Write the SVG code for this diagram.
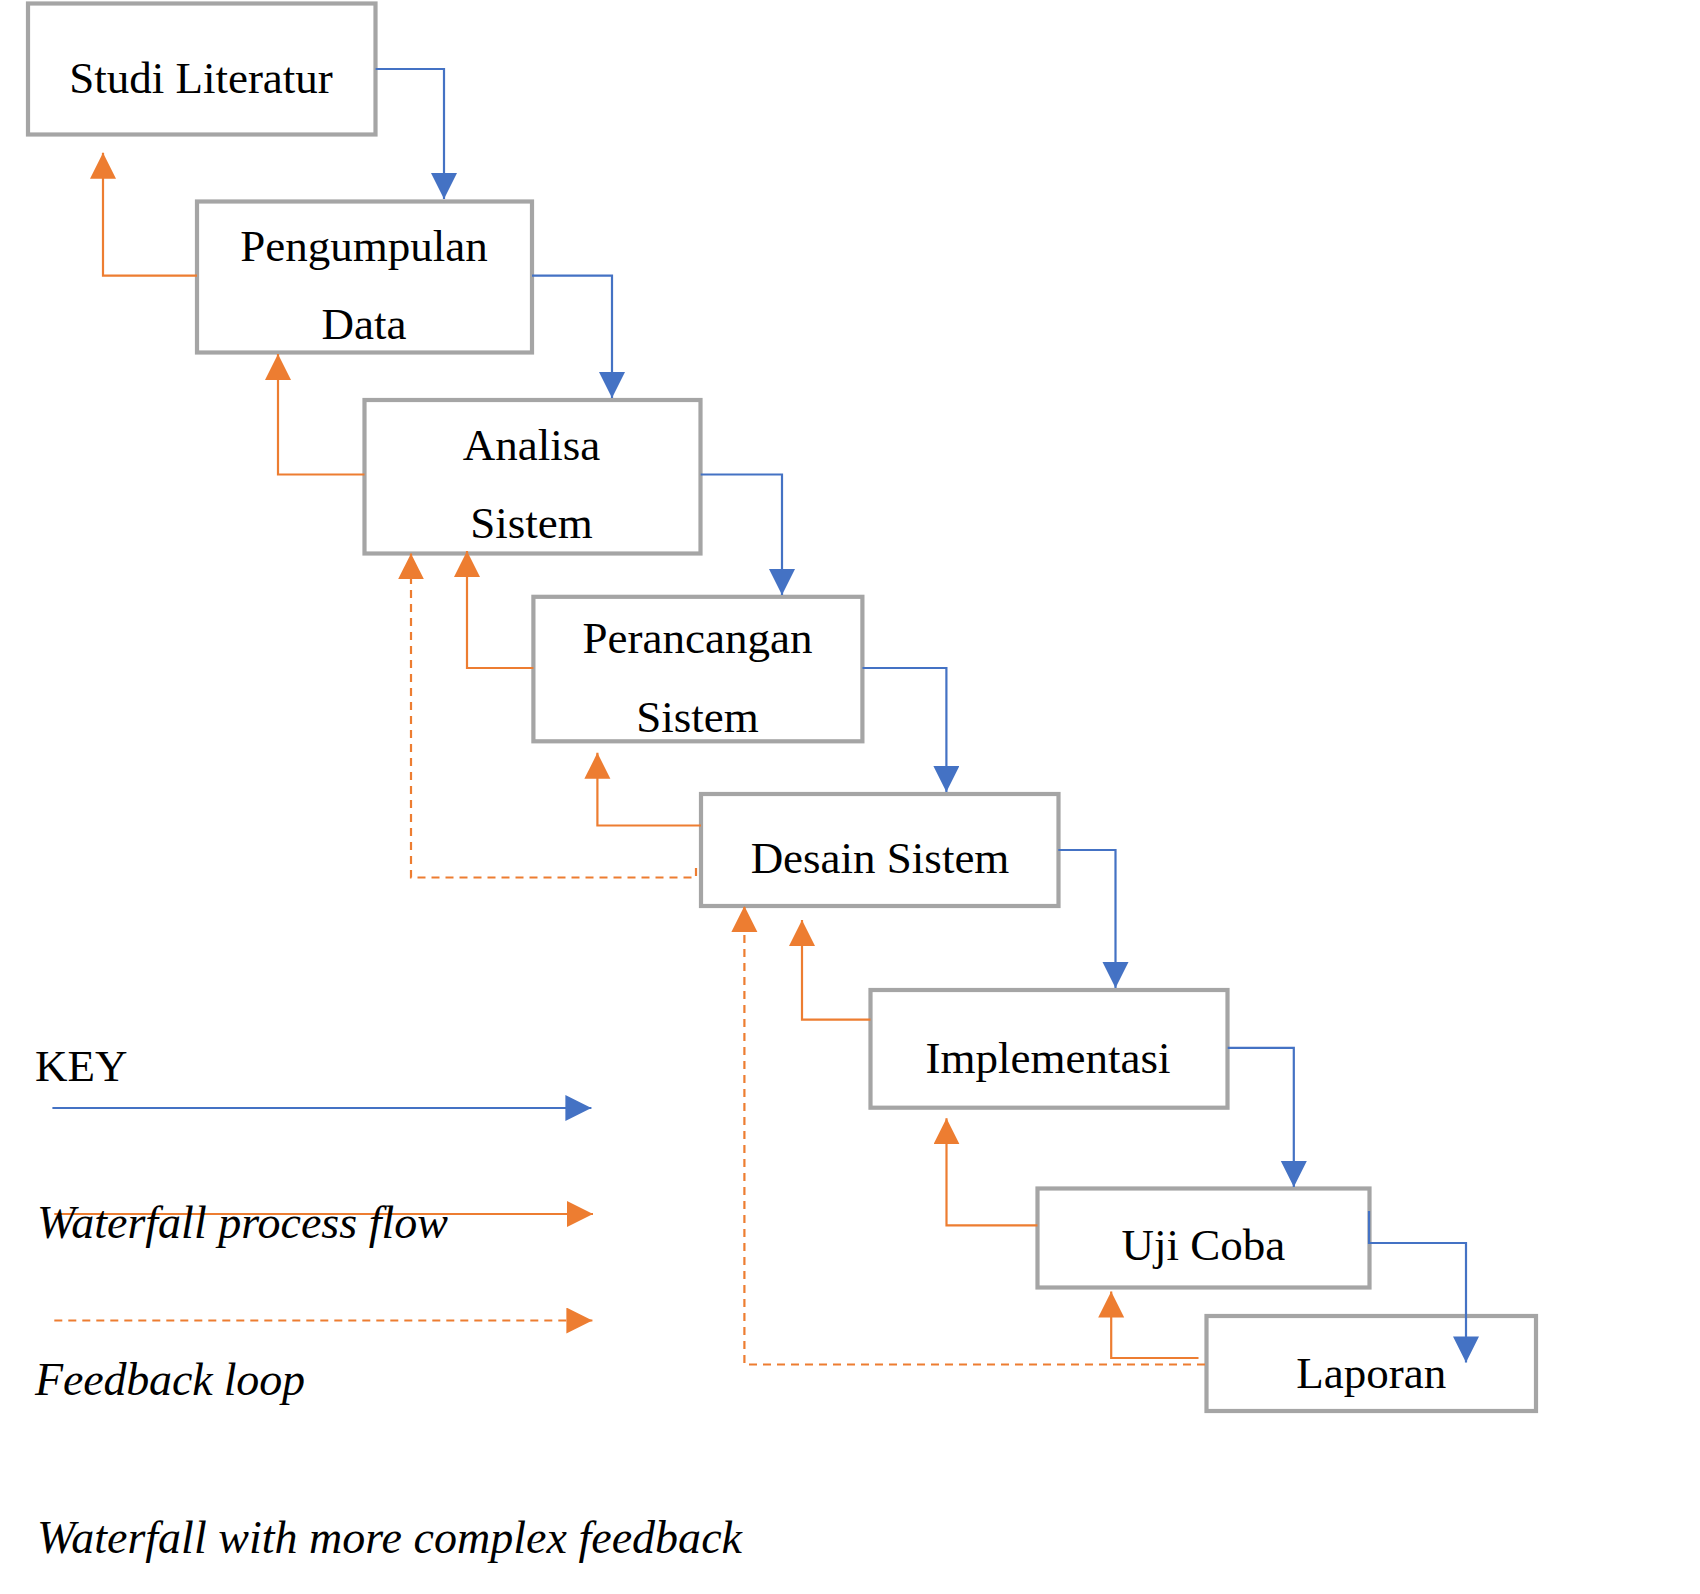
<svg xmlns="http://www.w3.org/2000/svg" width="1700" height="1594" viewBox="0 0 1700 1594">
<style>
.box{fill:#fff;stroke:#A5A5A5;stroke-width:4.2}
.t{font-family:"Liberation Serif","Times New Roman",serif;font-size:45px;fill:#000}
.c{text-anchor:middle}
.i{font-style:italic;font-size:46px}
.b{fill:none;stroke:#4472C4;stroke-width:2.2}
.o{fill:none;stroke:#ED7D31;stroke-width:2.2}
.d{stroke-dasharray:8 6}
</style>
<defs>
<marker id="ab" markerUnits="userSpaceOnUse" markerWidth="27" markerHeight="27" refX="26" refY="13" orient="auto" viewBox="0 0 27 27"><path d="M0,0 L26,13 L0,26 z" fill="#4472C4"/></marker>
<marker id="ao" markerUnits="userSpaceOnUse" markerWidth="27" markerHeight="27" refX="26" refY="13" orient="auto" viewBox="0 0 27 27"><path d="M0,0 L26,13 L0,26 z" fill="#ED7D31"/></marker>
</defs>
<rect width="1700" height="1594" fill="#fff"/>
<g id="studi"><rect class="box" x="28" y="3.5" width="347.5" height="131"/><text class="t c" x="201" y="92.5">Studi Literatur</text></g>
<g id="pengumpulan"><rect class="box" x="197" y="201.5" width="335" height="151"/><text class="t c" x="364" y="261">Pengumpulan</text><text class="t c" x="364" y="338.5">Data</text></g>
<g id="analisa"><rect class="box" x="364.5" y="400" width="336" height="153.5"/><text class="t c" x="531.5" y="460">Analisa</text><text class="t c" x="531.5" y="538.3">Sistem</text></g>
<g id="perancangan"><rect class="box" x="533.4" y="596.8" width="329" height="144.5"/><text class="t c" x="697.5" y="652.6">Perancangan</text><text class="t c" x="697.5" y="731.6">Sistem</text></g>
<g id="desain"><rect class="box" x="701" y="794" width="357.5" height="112"/><text class="t c" x="880" y="872.7">Desain Sistem</text></g>
<g id="implementasi"><rect class="box" x="870.5" y="990" width="357" height="117.7"/><text class="t c" x="1048" y="1072.5">Implementasi</text></g>
<g id="ujicoba"><rect class="box" x="1037.5" y="1188.5" width="332" height="99"/><text class="t c" x="1203.4" y="1260.4">Uji Coba</text></g>
<g id="laporan"><rect class="box" x="1206.5" y="1316" width="329.5" height="95"/><text class="t c" x="1371.3" y="1387.5">Laporan</text></g>
<g id="connectors">
<path class="b" marker-end="url(#ab)" d="M375.6,69 H444 V199"/>
<path class="b" marker-end="url(#ab)" d="M532,275.6 H612 V398"/>
<path class="b" marker-end="url(#ab)" d="M700.7,474.5 H782 V595"/>
<path class="b" marker-end="url(#ab)" d="M862.5,668 H946.4 V792"/>
<path class="b" marker-end="url(#ab)" d="M1058.3,850 H1115.5 V988"/>
<path class="b" marker-end="url(#ab)" d="M1227.7,1047.8 H1293.8 V1187"/>
<path class="b" marker-end="url(#ab)" d="M1369,1211 V1243 H1466 V1362.4"/>
<path class="o" marker-end="url(#ao)" d="M197,275.6 H103 V152.8"/>
<path class="o" marker-end="url(#ao)" d="M364.5,474.5 H278 V354"/>
<path class="o" marker-end="url(#ao)" d="M533.4,668 H467 V551"/>
<path class="o" marker-end="url(#ao)" d="M701,825.5 H597.4 V752.8"/>
<path class="o" marker-end="url(#ao)" d="M870.5,1019.6 H802 V920"/>
<path class="o" marker-end="url(#ao)" d="M1037.5,1225.3 H946.5 V1118.3"/>
<path class="o" marker-end="url(#ao)" d="M1198.5,1358 H1111.2 V1291.5"/>
<path class="o d" marker-end="url(#ao)" d="M696,868 V877.5 H411 V553.4"/>
<path class="o d" marker-end="url(#ao)" d="M1205,1364.5 H744.4 V906"/>
<path class="b" marker-end="url(#ab)" d="M52.4,1108 H591.4"/>
<path class="o" marker-end="url(#ao)" d="M54.3,1214 H593"/>
<path class="o d" marker-end="url(#ao)" d="M54.3,1320.5 H592.4"/>
</g>
<g id="key">
<text class="t" x="35" y="1080.6">KEY</text>
<text class="t i" x="37" y="1238.4" textLength="411">Waterfall process flow</text>
<text class="t i" x="35" y="1395.4" textLength="270">Feedback loop</text>
<text class="t i" x="37" y="1553" textLength="705">Waterfall with more complex feedback</text>
</g>
</svg>
